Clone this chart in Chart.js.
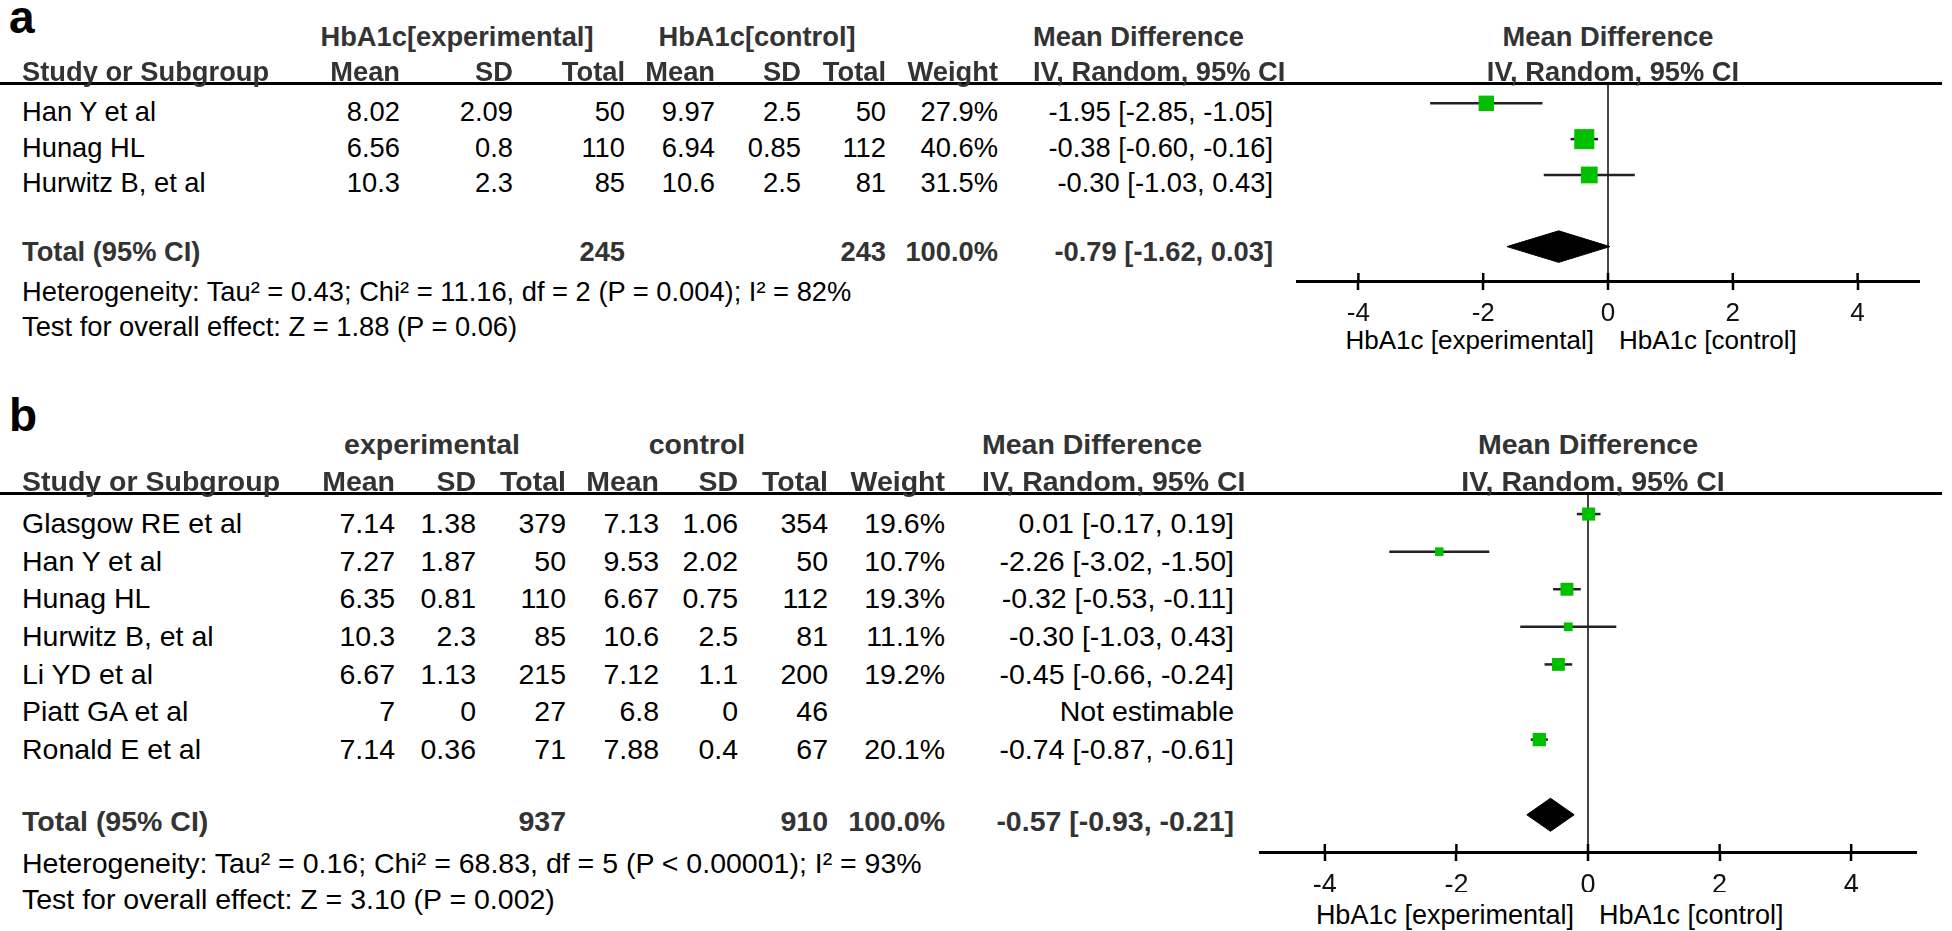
<!DOCTYPE html>
<html>
<head>
<meta charset="utf-8">
<title>HbA1c forest plots</title>
<script src="https://cdn.jsdelivr.net/npm/chart.js@4.4.1/dist/chart.umd.min.js"></script>
<style>
  html, body { margin: 0; padding: 0; background: #fff; }
  #page { position: relative; width: 1952px; height: 931px; overflow: hidden;
          font-family: "Liberation Sans", Arial, sans-serif; }
  .t { position: absolute; white-space: nowrap; line-height: 1; color: #000; }
  .b { font-weight: bold; color: #333; }
  .rule { position: absolute; left: 0; width: 1942px; height: 3px; background: #000; }
  canvas { position: absolute; }
</style>
</head>
<body>
<div id="page">
  <canvas id="forestA" width="624" height="238" style="left:1296px;top:83px"></canvas>
  <canvas id="forestB" width="658" height="399" style="left:1259px;top:493px"></canvas>
</div>
<script>
// ---- panel a ----
const studiesA = ['Han Y et al', 'Hunag HL', 'Hurwitz B, et al'];
const expMeanA = [8.02, 6.56, 10.3];
const expSdA = [2.09, 0.8, 2.3];
const expNA = [50, 110, 85];
const ctlMeanA = [9.97, 6.94, 10.6];
const ctlSdA = [2.5, 0.85, 2.5];
const ctlNA = [50, 112, 81];
const weightA = [27.9, 40.6, 31.5];
const mdA = [-1.95, -0.38, -0.30];
const loA = [-2.85, -0.60, -1.03];
const hiA = [-1.05, -0.16, 0.43];
const totalNA = [245, 243];
const totalA = [-0.79, -1.62, 0.03];   // estimate, lower, upper
const hetA = 'Heterogeneity: Tau² = 0.43; Chi² = 11.16, df = 2 (P = 0.004); I² = 82%';
const testA = 'Test for overall effect: Z = 1.88 (P = 0.06)';
const groupsA = ['HbA1c[experimental]', 'HbA1c[control]'];

// ---- panel b ----
const studiesB = ['Glasgow RE et al', 'Han Y et al', 'Hunag HL', 'Hurwitz B, et al',
                  'Li YD et al', 'Piatt GA et al', 'Ronald E et al'];
const expMeanB = [7.14, 7.27, 6.35, 10.3, 6.67, 7, 7.14];
const expSdB = [1.38, 1.87, 0.81, 2.3, 1.13, 0, 0.36];
const expNB = [379, 50, 110, 85, 215, 27, 71];
const ctlMeanB = [7.13, 9.53, 6.67, 10.6, 7.12, 6.8, 7.88];
const ctlSdB = [1.06, 2.02, 0.75, 2.5, 1.1, 0, 0.4];
const ctlNB = [354, 50, 112, 81, 200, 46, 67];
const weightB = [19.6, 10.7, 19.3, 11.1, 19.2, null, 20.1];
const mdB = [0.01, -2.26, -0.32, -0.30, -0.45, null, -0.74];
const loB = [-0.17, -3.02, -0.53, -1.03, -0.66, null, -0.87];
const hiB = [0.19, -1.50, -0.11, 0.43, -0.24, null, -0.61];
const totalNB = [937, 910];
const totalB = [-0.57, -0.93, -0.21];
const hetB = 'Heterogeneity: Tau² = 0.16; Chi² = 68.83, df = 5 (P < 0.00001); I² = 93%';
const testB = 'Test for overall effect: Z = 3.10 (P = 0.002)';
const groupsB = ['experimental', 'control'];

// shared
const colHeads = ['Mean', 'SD', 'Total', 'Mean', 'SD', 'Total', 'Weight'];
const xTicks = [-4, -2, 0, 2, 4];
const sideLabels = ['HbA1c [experimental]', 'HbA1c [control]'];

const FONT = '"Liberation Sans", Arial, sans-serif';
const AXIS_H = 40;
const page = document.getElementById('page');

// layout of each panel (pixels)
const layoutA = {
  tag: 'a', tagY: 17, font: 27.3, tickFont: 26, ruleY: 82,
  groupY: 37, headY: 72, rowY: 112, rowStep: 35.5, totalY: 252, hetY: 292, testY: 327,
  groupX: [457, 757], colX: [400, 513, 625, 715, 801, 886, 998], ciX: 1273, mdX: 1033,
  subY: 340, sizeK: 1.5, yMin: -0.567, yMax: 4.96
};
const layoutB = {
  tag: 'b', tagY: 415, font: 28.5, tickFont: 27, ruleY: 492,
  groupY: 443.5, headY: 481, rowY: 523, rowStep: 37.67, totalY: 821, hetY: 862.5, testY: 899,
  groupX: [432, 697], colX: [395, 476, 566, 659, 738, 828, 945], ciX: 1234, mdX: 982,
  subY: 915, sizeK: 1.63, yMin: -0.56, yMax: 8.99
};

function txt(s, x, y, align, size, bold) {
  const d = document.createElement('div');
  d.className = bold ? 't b' : 't';
  d.textContent = s;
  d.style.left = x + 'px';
  d.style.top = y + 'px';
  d.style.fontSize = size + 'px';
  const tx = align === 'r' ? '-100%' : align === 'c' ? '-50%' : '0';
  d.style.transform = `translate(${tx},-50%)`;
  page.appendChild(d);
  return d;
}

const ci = (m, l, h) => `${m.toFixed(2)} [${l.toFixed(2)}, ${h.toFixed(2)}]`;

function table(L, studies, cols, weight, md, lo, hi, totN, tot, het, test, groups) {
  const f = L.font;
  const tag = txt(L.tag, 9, L.tagY, 'l', 46, true);
  tag.style.color = '#000';
  const rule = document.createElement('div');
  rule.className = 'rule';
  rule.style.top = L.ruleY + 'px';
  page.appendChild(rule);

  txt(groups[0], L.groupX[0], L.groupY, 'c', f, true);
  txt(groups[1], L.groupX[1], L.groupY, 'c', f, true);
  txt('Mean Difference', L.mdX, L.groupY, 'l', f, true);
  txt('Study or Subgroup', 22, L.headY, 'l', f, true);
  colHeads.forEach((h, j) => txt(h, L.colX[j], L.headY, 'r', f, true));
  txt('IV, Random, 95% CI', L.mdX, L.headY, 'l', f, true);

  studies.forEach((s, i) => {
    const y = L.rowY + i * L.rowStep;
    txt(s, 22, y, 'l', f, false);
    cols.forEach((c, j) => txt(String(c[i]), L.colX[j], y, 'r', f, false));
    if (weight[i] !== null) txt(weight[i].toFixed(1) + '%', L.colX[6], y, 'r', f, false);
    txt(md[i] === null ? 'Not estimable' : ci(md[i], lo[i], hi[i]), L.ciX, y, 'r', f, false);
  });

  txt('Total (95% CI)', 22, L.totalY, 'l', f, true);
  txt(String(totN[0]), L.colX[2], L.totalY, 'r', f, true);
  txt(String(totN[1]), L.colX[5], L.totalY, 'r', f, true);
  txt('100.0%', L.colX[6], L.totalY, 'r', f, true);
  txt(ci(tot[0], tot[1], tot[2]), L.ciX, L.totalY, 'r', f, true);
  txt(het, 22, L.hetY, 'l', f, false);
  txt(test, 22, L.testY, 'l', f, false);
}

// tick marks above the axis line too
const upperTicks = {
  id: 'upperTicks',
  afterDraw(chart) {
    const s = chart.scales.x, c = chart.ctx, y0 = chart.chartArea.bottom;
    c.save();
    c.strokeStyle = '#000';
    c.lineWidth = 2.5;
    s.ticks.forEach(t => {
      const px = s.getPixelForValue(t.value);
      c.beginPath();
      c.moveTo(px, y0 - 8);
      c.lineTo(px, y0);
      c.stroke();
    });
    c.restore();
  }
};

function forest(canvasId, L, md, lo, hi, weight, tot) {
  const squares = [];
  const ciSets = [];
  md.forEach((m, i) => {
    if (m === null) return;
    squares.push({ x: m, y: i, w: weight[i] });
    ciSets.push({
      type: 'line',
      data: [{ x: lo[i], y: i }, { x: hi[i], y: i }],
      borderColor: '#222', borderWidth: 2.5, pointRadius: 0, fill: false
    });
  });
  const ty = md.length + 1;   // one blank row, then the total
  const h = 0.44;
  const diamond = {
    type: 'line',
    data: [
      { x: tot[1], y: ty }, { x: tot[0], y: ty - h },
      { x: tot[2], y: ty }, { x: tot[0], y: ty + h }, { x: tot[1], y: ty }
    ],
    borderColor: '#000', backgroundColor: '#000', borderWidth: 1,
    pointRadius: 0, fill: 'shape', tension: 0
  };

  const canvas = document.getElementById(canvasId);
  const chart = new Chart(canvas, {
    type: 'scatter',
    data: {
      datasets: [{
        data: squares,
        pointStyle: 'rect',
        backgroundColor: '#00c000',
        borderColor: '#00c000',
        borderWidth: 0,
        pointRadius: ctx => L.sizeK * Math.pow(ctx.raw.w, 0.7) / Math.SQRT2
      }, ...ciSets, diamond]
    },
    options: {
      responsive: false,
      animation: false,
      events: [],
      layout: { padding: 0, autoPadding: false },
      plugins: { legend: { display: false }, tooltip: { enabled: false } },
      scales: {
        x: {
          type: 'linear', min: -5, max: 5,
          afterBuildTicks: s => { s.ticks = xTicks.map(v => ({ value: v })); },
          afterFit: s => { s.height = AXIS_H; s.paddingLeft = 0; s.paddingRight = 0; },
          border: { display: true, color: '#000', width: 3 },
          grid: {
            drawOnChartArea: true, drawTicks: true, tickLength: 9,
            tickColor: '#000', tickWidth: 2.5, lineWidth: 2,
            color: c => (c.tick && c.tick.value === 0) ? '#444' : 'rgba(0,0,0,0)'
          },
          ticks: { color: '#111', font: { family: FONT, size: L.tickFont }, padding: 8 }
        },
        y: { type: 'linear', display: false, reverse: true, min: L.yMin, max: L.yMax }
      }
    },
    plugins: [upperTicks]
  });

  // column headers and side labels centred on the line of no effect
  const left = parseFloat(canvas.style.left);
  const zero = left + chart.scales.x.getPixelForValue(0);
  txt('Mean Difference', zero, L.groupY, 'c', L.font, true);
  txt('IV, Random, 95% CI', zero + 5, L.headY, 'c', L.font, true);
  txt(sideLabels[0], zero - 14, L.subY, 'r', L.tickFont, false);
  txt(sideLabels[1], zero + 11, L.subY, 'l', L.tickFont, false);
  return chart;
}

table(layoutA, studiesA, [expMeanA, expSdA, expNA, ctlMeanA, ctlSdA, ctlNA],
      weightA, mdA, loA, hiA, totalNA, totalA, hetA, testA, groupsA);
table(layoutB, studiesB, [expMeanB, expSdB, expNB, ctlMeanB, ctlSdB, ctlNB],
      weightB, mdB, loB, hiB, totalNB, totalB, hetB, testB, groupsB);
forest('forestA', layoutA, mdA, loA, hiA, weightA, totalA);
forest('forestB', layoutB, mdB, loB, hiB, weightB, totalB);
</script>
</body>
</html>
